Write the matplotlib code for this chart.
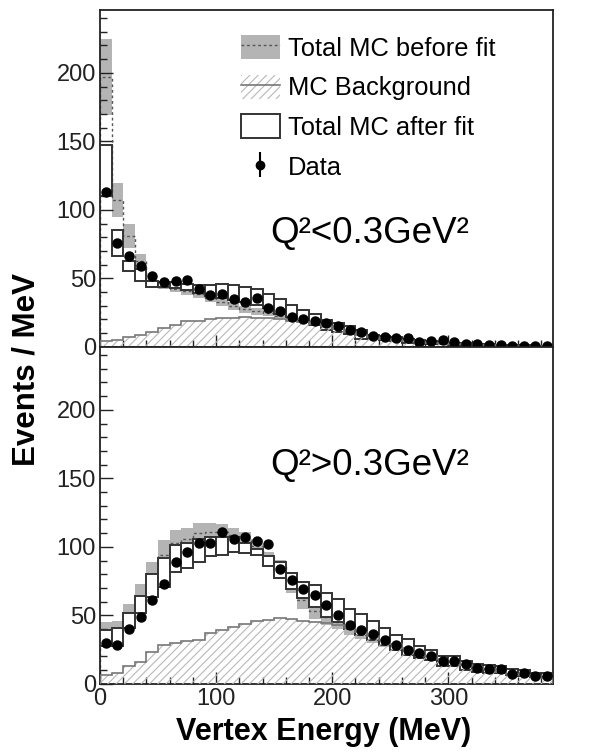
import matplotlib
matplotlib.use("Agg")
import matplotlib.pyplot as plt
import numpy as np
from matplotlib.patches import Patch
from matplotlib.lines import Line2D
from matplotlib.ticker import MultipleLocator

plt.rcParams["font.family"] = ["Liberation Sans", "DejaVu Sans"]
plt.rcParams["hatch.linewidth"] = 0.8

bin_edges = np.arange(0, 391, 10)
bin_centers = bin_edges[:-1] + 5

# Q2 < 0.3 GeV2
low_data = [113, 76, 66, 59, 52, 47, 48, 49, 42, 37.6, 38.6, 35, 33, 36, 28.5, 26, 22, 20.4, 19, 17.5,
            15, 12.4, 11, 8, 7.5, 6.5, 6.3, 3.2, 4.6, 5.2, 3.4, 2.4, 2, 1.5, 1.2, 0.7, 0.7, 0.3, 0.3]
low_before = [197, 107, 81, 63, 46.5, 44, 42.3, 40.5, 38.3, 36, 32.4, 30, 27.5, 25.8, 24.4, 22.5, 21, 19.3, 17.5, 15.5,
              13.5, 11.5, 9.5, 7.8, 6.5, 5.5, 4.5, 3.8, 3.2, 2.8, 2.3, 2, 1.7, 1.4, 1.2, 1, 0.8, 0.6, 0.5]
low_before_err = [28, 12.5, 9, 4.5, 2.5, 2, 2.5, 2.5, 3, 3, 2.7, 3, 2.5, 2.2, 2, 1.5, 2, 1.8, 1.5, 1.5,
                  1.5, 1.5, 1.5, 1.3, 1, 1, 1, 0.8, 0.7, 0.6, 0.5, 0.5, 0.4, 0.4, 0.3, 0.3, 0.3, 0.2, 0.2]
low_after_lo = [110, 66, 55, 48, 44, 44, 43, 41.6, 39.4, 37, 36, 34, 33, 30.5, 28.5, 24, 22, 18.5, 15.6, 12.4,
                11, 9.5, 6, 5.7, 5, 4, 3, 2.7, 2.2, 1.8, 1.5, 1.2, 1, 0.8, 0.6, 0.5, 0.4, 0.3, 0.2]
low_after_hi = [147, 85, 63, 57, 48, 47, 47, 46, 45, 45, 46, 45, 44, 42.5, 38.7, 35, 30.6, 27, 24, 19.7,
                17.5, 15, 12, 9, 8, 7, 5.4, 5, 4.2, 3.6, 3, 2.6, 2.2, 1.8, 1.5, 1.2, 1, 0.8, 0.6]
low_bkg = [3.9, 5, 7, 8.8, 11, 13.6, 16, 18.5, 19, 20, 21, 21, 21.5, 21, 21, 20, 19, 18, 16.5, 15,
           13, 11, 9, 7, 6, 5, 4, 3.5, 3, 2.5, 2, 1.8, 1.5, 1.2, 1, 0.8, 0.6, 0.5, 0.4]

# Q2 > 0.3 GeV2
high_data = [29.7, 28.5, 40, 49, 61, 73, 89, 96.6, 103, 103, 111, 106, 107, 104.6, 102, 84, 76, 69, 65, 57.7,
             50, 43, 39, 36.5, 32, 28.5, 24.8, 22.8, 20.4, 17, 17, 14.6, 11.4, 10.7, 11, 7.3, 7.8, 5.4, 6]
high_before = [39.5, 41, 51.6, 64, 79.5, 94, 102.5, 105.7, 110, 111, 111, 108.5, 106, 101, 92, 86, 72, 61, 53, 48.5,
               45, 40.5, 37, 33.5, 30, 27, 24.5, 21.5, 19, 16.5, 15.2, 13.5, 11.8, 10.8, 9.8, 8.8, 7.8, 6.9, 6.5]
high_before_err = [5.5, 5, 6.8, 9, 9.5, 11, 9.5, 8, 7.5, 6.5, 6, 5.5, 5, 4.5, 4.5, 4.5, 6, 6, 6, 5.5,
                   5, 4.5, 4, 3.5, 3, 3, 2.5, 2.5, 2, 1.5, 1.7, 1.5, 1.3, 1.2, 1.2, 1.2, 1.2, 1.1, 1]
high_after_lo = [27.7, 27.7, 40.6, 52, 63.7, 70.6, 82, 84.4, 89, 93, 94, 96.6, 95.8, 94, 86, 77, 69, 62.5, 56, 49,
                 45.5, 40, 35.8, 32, 28.5, 24.8, 21, 18.7, 17.5, 13, 13, 10, 9, 8.3, 7.8, 6.6, 5.8, 4.9, 4.9]
high_after_hi = [39, 40.6, 52, 64, 80, 91.7, 101.5, 102.7, 106, 107.5, 107.5, 107.5, 102.7, 98.5, 93, 88.6, 80.8, 74, 72, 66,
                 61.8, 55, 51, 46, 40.6, 36, 33, 27.7, 24.8, 20.4, 20, 17, 14.6, 13.9, 13, 10.7, 10, 8.3, 7.8]
high_bkg = [6.6, 7.8, 12.7, 16.3, 23.6, 28.5, 29.7, 31, 32, 37, 39.4, 41.8, 43.8, 46.2, 46.7, 48, 47.3, 46.2, 45.5, 44.3,
            43, 41, 38, 35, 32, 29, 26, 23, 20.5, 18, 16, 14, 12, 10.5, 9, 7.5, 6.5, 5.5, 4.5]

GREY = "#b4b4b4"
EDGE = "#333333"
HATCH = "#b8b8b8"


def draw_panel(ax, data, before, before_err, after_lo, after_hi, bkg):
    before = np.array(before)
    before_err = np.array(before_err)
    after_lo = np.array(after_lo)
    after_hi = np.array(after_hi)

    ax.stairs(before + before_err, bin_edges, baseline=before - before_err,
              fill=True, color=GREY, linewidth=0, zorder=1)
    ax.stairs(before, bin_edges, color="#555555", linestyle=(0, (2, 2)), linewidth=1.0, zorder=2)
    ax.bar(bin_centers, after_hi - after_lo, bottom=after_lo, width=10,
           facecolor="white", edgecolor=EDGE, linewidth=1.4, zorder=3)
    ax.stairs(bkg, bin_edges, fill=True, facecolor="none", edgecolor=HATCH,
              hatch="////", linewidth=0, zorder=4)
    ax.stairs(bkg, bin_edges, color="#777777", linewidth=1.2, zorder=4)
    ax.plot(bin_centers, data, "o", color="black", ms=6.5, zorder=5)

    ax.set_xlim(0, 390)
    ax.set_ylim(0, 246)
    ax.xaxis.set_major_locator(MultipleLocator(100))
    ax.xaxis.set_minor_locator(MultipleLocator(20))
    ax.yaxis.set_minor_locator(MultipleLocator(10))
    ax.set_yticks([0, 50, 100, 150, 200])
    ax.tick_params(which="both", direction="in", top=False, right=False, colors="#222222",
                   labelsize=17, width=1.0)
    ax.tick_params(which="major", length=9, pad=3)
    ax.tick_params(which="minor", length=5)
    for sp in ax.spines.values():
        sp.set_linewidth(1.3)
        sp.set_color("#222222")


fig = plt.figure(figsize=(5.99, 7.54), dpi=100)
ax_top = fig.add_axes([0.167, 0.54, 0.756, 0.447])
ax_bot = fig.add_axes([0.167, 0.093, 0.756, 0.447], sharex=ax_top)

draw_panel(ax_top, low_data, low_before, low_before_err, low_after_lo, low_after_hi, low_bkg)
draw_panel(ax_bot, high_data, high_before, high_before_err, high_after_lo, high_after_hi, high_bkg)
ax_top.tick_params(labelbottom=False)

ax_top.text(0.375, 0.335, "Q²<0.3GeV²", transform=ax_top.transAxes, fontsize=26.5, va="center")
ax_bot.text(0.375, 0.647, "Q²>0.3GeV²", transform=ax_bot.transAxes, fontsize=26.5, va="center")

fig.text(0.54, 0.029, "Vertex Energy (MeV)", fontsize=22, fontweight="bold",
         ha="center", va="center")
fig.text(0.044, 0.51, "Events / MeV", rotation=90, fontsize=22.5, fontweight="bold",
         ha="center", va="center")

h_before = (Patch(facecolor=GREY, edgecolor="none"),
            Line2D([], [], color="#555555", linestyle=(0, (2, 2)), linewidth=1.0))
h_bkg = (Patch(facecolor="none", edgecolor=HATCH, hatch="////", linewidth=0),
         Line2D([], [], color="#777777", linewidth=1.2))
h_after = Patch(facecolor="white", edgecolor=EDGE, linewidth=1.4)
h_data = ax_top.errorbar([np.nan], [np.nan], yerr=[1], fmt="o", color="black", ms=6, elinewidth=1.5)

ax_top.legend([h_before, h_bkg, h_after, h_data],
              ["Total MC before fit", "MC Background", "Total MC after fit", "Data"],
              loc="upper left", bbox_to_anchor=(0.311, 0.925), frameon=False, fontsize=18.4,
              handlelength=1.53, handleheight=1.06, labelspacing=0.55, handletextpad=0.31,
              borderaxespad=0, borderpad=0)

fig.savefig("out.png", dpi=100)
